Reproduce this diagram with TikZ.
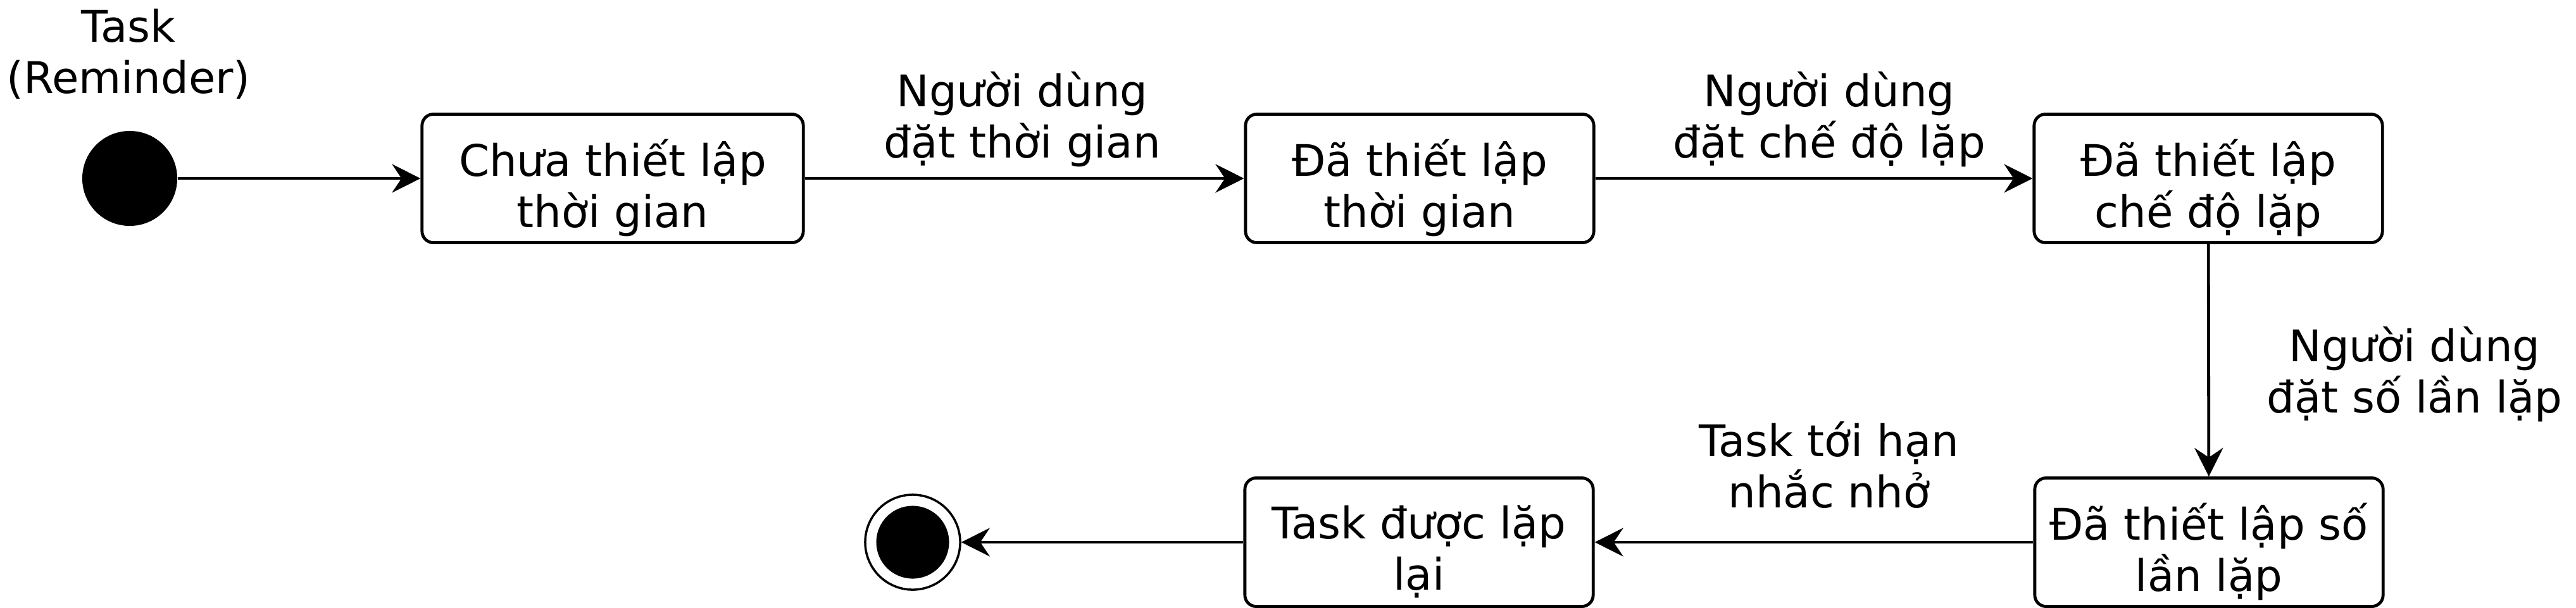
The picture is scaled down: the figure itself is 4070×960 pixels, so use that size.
\documentclass[tikz,border=0pt]{standalone}
\usepackage{fontspec}
\setmainfont{DejaVu Sans}
\usetikzlibrary{arrows.meta}
\tikzset{
  stbox/.style={draw, rounded corners=0.18cm, line width=0.048cm, minimum width=5.5cm, minimum height=2.03cm, inner sep=0pt},
  lab/.style={align=center, inner sep=0pt, font=\lbl},
  arr/.style={line width=0.048cm, -{Stealth[length=0.45cm, width=0.45cm, inset=0.15cm]}},
}
\newcommand{\lbl}{\fontsize{19.6pt}{23pt}\selectfont}
\begin{document}
\begin{tikzpicture}[x=0.01cm, y=-0.01cm]
\useasboundingbox (0,0) rectangle (4070,960);
\node[circle, fill=black, minimum size=1.5cm, inner sep=0pt] (init) at (205,282) {};
\node[lab] (title) at (203,85) {Task\\(Reminder)};
\node[stbox, minimum width=6.02cm] (b1) at (968,282) {};
\node[lab] (t1) at (968,297) {Chưa thiết lập\\thời gian};
\node[stbox] (b2) at (2243,282) {};
\node[lab] (t2) at (2243,297) {Đã thiết lập\\thời gian};
\node[stbox] (b3) at (3489,282) {};
\node[lab] (t3) at (3489,297) {Đã thiết lập\\chế độ lặp};
\node[stbox] (b4) at (3490,857) {};
\node[lab] (t4) at (3490,872) {Đã thiết lập số\\lần lặp};
\node[stbox] (b5) at (2242,857) {};
\node[lab] (t5) at (2242,872) {Task được lặp\\lại};
\node[circle, draw, line width=0.035cm, minimum size=1.5cm, inner sep=0pt] (final) at (1442,857) {};
\fill (final.center) circle [radius=0.575cm];
\node[lab] (l1) at (1615,189) {Người dùng\\đặt thời gian};
\node[lab] (l2) at (2890,189) {Người dùng\\đặt chế độ lặp};
\node[lab] (l3) at (3815,592) {Người dùng\\đặt số lần lặp};
\node[lab] (l4) at (2890,735) {Task tới hạn\\nhắc nhở};
\draw[arr] (init) -- (b1);
\draw[arr] (b1) -- (b2);
\draw[arr] (b2) -- (b3);
\draw[arr] (b3) -- (b4);
\draw[arr] (b4) -- (b5);
\draw[arr] (b5) -- (final);
\end{tikzpicture}
\end{document}
